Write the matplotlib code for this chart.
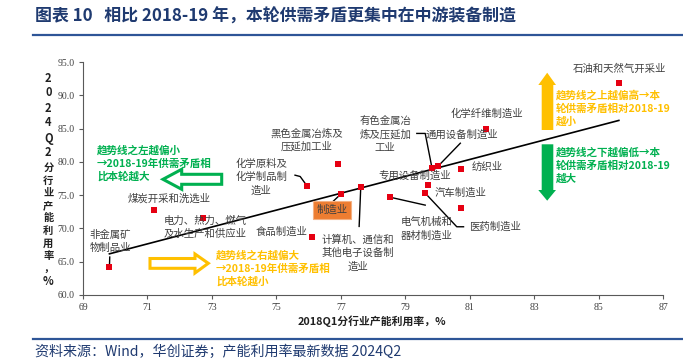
import numpy as np
import matplotlib
matplotlib.use("Agg")
import matplotlib.pyplot as plt
from matplotlib.patches import Polygon

plt.rcParams['font.family'] = ['Noto Sans CJK SC', 'DejaVu Sans']

# ---------------- data ----------------
industries = ["非金属矿物制品业", "煤炭开采和洗选业", "电力、热力、燃气及水生产和供应业",
              "化学原料及化学制品制造业", "食品制造业", "黑色金属冶炼及压延加工业",
              "制造业", "计算机、通信和其他电子设备制造业", "电气机械和器材制造业",
              "有色金属冶炼及压延加工业", "通用设备制造业", "纺织业", "专用设备制造业",
              "医药制造业", "汽车制造业", "化学纤维制造业", "石油和天然气开采业"]
x_2018q1 = [69.82, 71.21, 72.73, 75.95, 76.12, 76.92, 77.01, 77.62, 78.52,
            79.83, 80.03, 80.72, 79.72, 79.62, 80.72, 81.52, 85.63]
y_2024q2 = [64.2, 72.8, 71.5, 76.4, 68.75, 79.7, 75.2, 76.2, 74.7,
            79.1, 79.4, 79.0, 76.5, 75.3, 73.0, 84.9, 91.8]
x_ticks = [69, 71, 73, 75, 77, 79, 81, 83, 85, 87]
y_ticks = [60, 65, 70, 75, 80, 85, 90, 95]

# ---------------- layout (label text) ----------------
label_text = ["非金属矿\n物制品业", "煤炭开采和洗选业", "电力、热力、燃气\n及水生产和供应业",
              "化学原料及\n化学制品制\n造业", "食品制造业", "黑色金属冶炼及\n压延加工业",
              None, "计算机、通信和\n其他电子设备制\n造业", "电气机械和\n器材制造业",
              "有色金属冶\n炼及压延加\n工业", "通用设备制造业", "纺织业", "专用设备制造业",
              "医药制造业", "汽车制造业", "化学纤维制造业", "石油和天然气开采业"]
label_pos = [(69.84, 68.1), (71.67, 74.5), (72.79, 70.2),
             (74.53, 77.7), (75.17, 69.5), (75.95, 83.3),
             None, (77.54, 66.3), (79.67, 69.9),
             (78.38, 84.1), (80.76, 84.1), (81.53, 79.3), (79.28, 77.9),
             (81.77, 70.3), (80.71, 75.4), (81.52, 87.3), (85.65, 94.0)]
# leader paths (from the point to these anchors)
leaders = {0: [(69.83, 65.7)],
           3: [(75.74, 77.8), (75.58, 78.0)],
           6: [(76.77, 74.1)],
           7: [(77.57, 70.3)],
           8: [(79.62, 73.5)],
           9: [(79.62, 84.27), (79.36, 84.27)],
           10: [(80.71, 82.8)],
           13: [(80.6, 70.25), (80.81, 70.25)]}

W, H = 683, 363
fig = plt.figure(figsize=(W / 100, H / 100), dpi=100)
def fx(p): return p / W
def fy(p): return 1 - p / H

ax = fig.add_axes([fx(83), fy(295), fx(663) - fx(83), fy(62) - fy(295)])
ax.set_xlim(69, 87)
ax.set_ylim(60, 95)
for s in ["top", "right"]:
    ax.spines[s].set_visible(False)
for s in ["left", "bottom"]:
    ax.spines[s].set_color("#595959")
    ax.spines[s].set_linewidth(0.8)
ax.set_xticks(x_ticks)
ax.set_yticks(y_ticks)
ax.set_xticklabels([str(v) for v in x_ticks], family="Liberation Serif", fontsize=7, color="#404040")
ax.set_yticklabels([f"{v:.1f}" for v in y_ticks], family="Liberation Serif", fontsize=7, color="#404040")
ax.tick_params(axis="both", direction="out", length=3, width=0.8, color="#595959", pad=3)

# trend line
xs = np.array(x_2018q1); ys = np.array(y_2024q2)
k, b = np.polyfit(xs, ys, 1)
xl = np.array([xs.min(), xs.max()])
ax.plot(xl, k * xl + b, color="black", lw=1.2, zorder=2)

# points
ax.scatter(xs, ys, marker="s", s=20, color="#E60012", zorder=3, linewidths=0)

lab_color = "#404040"
for i, (t, p) in enumerate(zip(label_text, label_pos)):
    if t is not None:
        ax.text(p[0], p[1], t, ha="center", va="center", fontsize=7.5, color=lab_color,
                linespacing=1.4, zorder=4)
    if i in leaders:
        path = [(x_2018q1[i], y_2024q2[i])] + leaders[i]
        px, py = zip(*path)
        ax.plot(px, py, color="black", lw=1.0, zorder=2.5)

# 制造业 box
ax.text(76.73, 72.76, "制造业", ha="center", va="center", fontsize=7.5, color=lab_color,
        bbox=dict(boxstyle="square,pad=0.35", fc="#ED7D31", ec="#F4B183", lw=0.8), zorder=5)

# annotation texts
green = "#00B050"; yellow = "#FFC000"
fig.text(fx(97), fy(145), "趋势线之左越偏小\n→2018-19年供需矛盾相\n比本轮越大", color=green,
         fontsize=7.6, fontweight="bold", va="top", ha="left", linespacing=1.35)
fig.text(fx(216), fy(250), "趋势线之右越偏大\n→2018-19年供需矛盾相\n比本轮越小", color=yellow,
         fontsize=7.6, fontweight="bold", va="top", ha="left", linespacing=1.35)
fig.text(fx(556), fy(90), "趋势线之上越偏高→本\n轮供需矛盾相对2018-19\n越小", color=yellow,
         fontsize=7.6, fontweight="bold", va="top", ha="left", linespacing=1.35)
fig.text(fx(556), fy(147), "趋势线之下越偏低→本\n轮供需矛盾相对2018-19\n越大", color=green,
         fontsize=7.6, fontweight="bold", va="top", ha="left", linespacing=1.35)

def poly(pts, **kw):
    fig.patches.append(Polygon([(fx(a), fy(c)) for a, c in pts], closed=True,
                               transform=fig.transFigure, **kw))

# hollow left arrow (green)
poly([(163, 179.3), (181.7, 169.3), (181.7, 174.3), (221.7, 174.3), (221.7, 184.3),
      (181.7, 184.3), (181.7, 189.3)], fc="white", ec=green, lw=2.2)
# hollow right arrow (yellow)
poly([(208.3, 263.3), (195, 254), (195, 258.5), (150, 258.5), (150, 268.3),
      (195, 268.3), (195, 273)], fc="white", ec=yellow, lw=2.2)
# solid up arrow (yellow)
poly([(547.2, 72.7), (538.3, 85), (541.7, 85), (541.7, 130), (553.3, 130), (553.3, 85),
      (556, 85)], fc=yellow, ec="none")
# solid down arrow (green)
poly([(547.2, 200.7), (538.3, 190), (541.7, 190), (541.7, 144.3), (553.3, 144.3),
      (553.3, 190), (556, 190)], fc=green, ec="none")

# axis titles
fig.text(fx(372), fy(321), "2018Q1分行业产能利用率，%", ha="center", va="center",
         fontsize=7.8, fontweight="bold", color="#202020")
ylab = "2024Q2分行业产能利用率，%"
yy = 78
for ch in ylab:
    fig.text(fx(48.3), fy(yy), ch, ha="center", va="center", fontsize=8 if ch.isascii() else 7.4,
             fontweight="bold", color="#202020")
    yy += 15 if ch.isascii() else 12.6

# title & footer
navy = "#1F3A70"
fig.text(fx(35), fy(17), "图表 10   相比 2018-19 年，本轮供需矛盾更集中在中游装备制造",
         ha="left", va="center", fontsize=12.2, fontweight="bold", color=navy)
fig.lines.append(plt.Line2D([fx(33), 1], [fy(34.5), fy(34.5)], transform=fig.transFigure,
                            color="#2E5597", lw=1.6))
fig.lines.append(plt.Line2D([fx(33), 1], [fy(339), fy(339)], transform=fig.transFigure,
                            color="#2E5597", lw=1.6))
fig.text(fx(35), fy(352), "资料来源：Wind，华创证券；产能利用率最新数据 2024Q2",
         ha="left", va="center", fontsize=10.1, color=navy)

fig.savefig("out.png", dpi=100)
